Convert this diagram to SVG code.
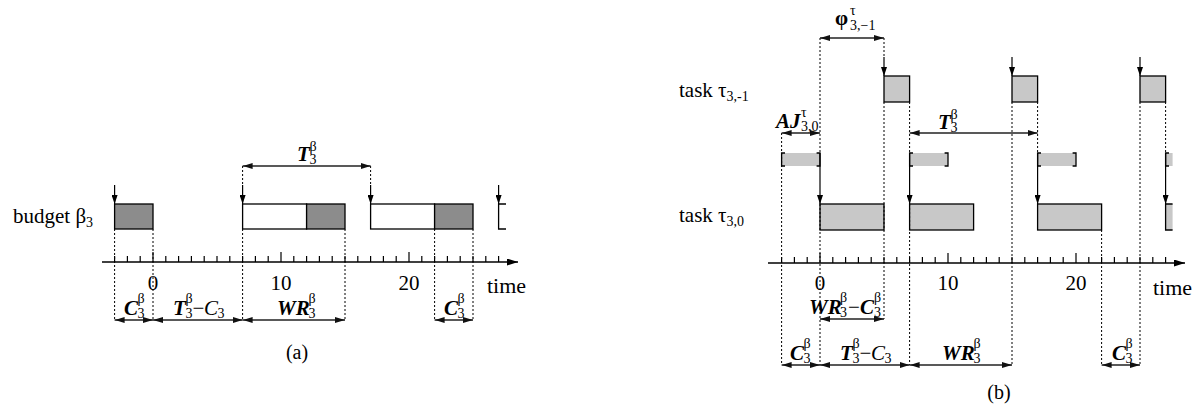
<svg xmlns="http://www.w3.org/2000/svg" xmlns:xlink="http://www.w3.org/1999/xlink" width="1196" height="406" viewBox="0 0 1196 406" font-family="'Liberation Serif', 'Times New Roman', Times, 'DejaVu Serif', serif">
<style>
.t,.m,.g,.r,.s{font-family:"Liberation Serif","Times New Roman",Times,"DejaVu Serif",serif;fill:#000}
.t{font-size:21px}
.m{font-size:21px;font-weight:bold;font-style:italic}
.g{font-size:21px;font-weight:bold}
.r{font-size:21px;font-style:italic}
.s{font-size:14px}
.dk{fill:#8c8c8c;stroke:#000;stroke-width:1.3}
.wh{fill:#fff;stroke:#000;stroke-width:1.3}
.lt{fill:#c8c8c8;stroke:#000;stroke-width:1.3}
.ltf{fill:#c8c8c8;stroke:none}
.br{fill:none;stroke:#000;stroke-width:1.3}
.dot{stroke:#000;stroke-width:1;stroke-dasharray:2 2;fill:none}
.dim{stroke:#222;stroke-width:1.4;fill:none;marker-start:url(#ah);marker-end:url(#ah)}
.rel{stroke:#000;stroke-width:1.2;fill:none;marker-end:url(#rh)}
.ax{stroke:#000;stroke-width:1.4;fill:none;marker-end:url(#axh)}
.tk{stroke:#000;stroke-width:1.2;fill:none}
</style>
<defs>
<marker id="ah" viewBox="0 0 10 6" refX="10" refY="3" markerWidth="10" markerHeight="6" markerUnits="userSpaceOnUse" orient="auto-start-reverse"><path d="M0,0 L10,3 L0,6 z" fill="#111"/></marker>
<marker id="rh" viewBox="0 0 6 9" refX="3" refY="9" markerWidth="6" markerHeight="9" markerUnits="userSpaceOnUse" orient="0"><path d="M0,0 L6,0 L3,9 z" fill="#000"/></marker>
<marker id="axh" viewBox="0 0 11 7" refX="11" refY="3.5" markerWidth="11" markerHeight="7" markerUnits="userSpaceOnUse" orient="auto"><path d="M0,0 L11,3.5 L0,7 z" fill="#000"/></marker>
<path id="ticks" class="tk" d="M114.6,256V262M127.4,256V262M140.2,256V262M153,252V262M165.8,256V262M178.6,256V262M191.4,256V262M204.2,256V262M217,256V262M229.8,256V262M242.6,256V262M255.4,256V262M268.2,256V262M281,252V262M293.8,256V262M306.6,256V262M319.4,256V262M332.2,256V262M345,256V262M357.8,256V262M370.6,256V262M383.4,256V262M396.2,256V262M409,252V262M421.8,256V262M434.6,256V262M447.4,256V262M460.2,256V262M473,256V262M485.8,256V262M498.6,256V262"/>
</defs>

<!-- ===== (a) ===== -->
<g id="a-labels">
<text class="t" x="13" y="223">budget β<tspan class="s" dy="4">3</tspan></text>
<text class="t" x="153" y="290" text-anchor="middle">0</text>
<text class="t" x="281" y="290" text-anchor="middle">10</text>
<text class="t" x="409" y="290" text-anchor="middle">20</text>
<text class="t" x="487" y="293" style="font-size:22px">time</text>
<text class="t" x="297" y="359" text-anchor="middle" style="font-size:20px">(a)</text>
</g>
<g id="a-axis">
<line class="ax" x1="102" y1="262" x2="518" y2="262"/>
<use xlink:href="#ticks"/>
</g>
<g id="a-budget1"><rect class="dk" x="114.6" y="204" width="38.4" height="25"/></g>
<g id="a-budget2"><rect class="wh" x="242.6" y="204" width="64" height="25"/><rect class="dk" x="306.6" y="204" width="38.4" height="25"/></g>
<g id="a-budget3"><rect class="wh" x="370.6" y="204" width="64" height="25"/><rect class="dk" x="434.6" y="204" width="38.4" height="25"/></g>
<g id="a-budget4"><path class="br" d="M506,204H498.6V229H506"/></g>
<g id="a-connectors">
<line class="rel" x1="114.6" y1="185" x2="114.6" y2="204"/>
<line class="rel" x1="242.6" y1="185" x2="242.6" y2="204"/>
<line class="rel" x1="370.6" y1="185" x2="370.6" y2="204"/>
<line class="rel" x1="498.6" y1="185" x2="498.6" y2="204"/>
<path class="dot" d="M242.6,166V185M370.6,166V185M114.6,229V320M153,229V320M242.6,229V320M345,229V320M434.6,229V320M473,229V320"/>
<line class="dim" x1="242.6" y1="166" x2="370.6" y2="166"/>
<line class="dim" x1="114.6" y1="320" x2="153" y2="320"/>
<line class="dim" x1="153" y1="320" x2="242.6" y2="320"/>
<line class="dim" x1="242.6" y1="320" x2="345" y2="320"/>
<line class="dim" x1="434.6" y1="320" x2="473" y2="320"/>
</g>
<g id="a-dimlabels">
<text class="m" x="297" y="161">T</text><text class="s" x="309.5" y="151">β</text><text class="s" x="309.5" y="164">3</text>
<text class="m" x="124" y="315">C</text><text class="s" x="137.5" y="303">β</text><text class="s" x="137.5" y="318">3</text>
<text class="m" x="173" y="315">T</text><text class="s" x="185.5" y="303">β</text><text class="s" x="185.5" y="318">3</text><text class="t" x="192.5" y="315">−</text><text class="r" x="204" y="315">C</text><text class="s" x="217.5" y="318">3</text>
<text class="m" x="277" y="315">WR</text><text class="s" x="308.5" y="303">β</text><text class="s" x="308.5" y="318">3</text>
<text class="m" x="444" y="315">C</text><text class="s" x="457.5" y="303">β</text><text class="s" x="457.5" y="318">3</text>
</g>

<!-- ===== (b) ===== -->
<g id="b-labels">
<text class="t" x="679" y="97">task τ<tspan class="s" dy="4">3,-1</tspan></text>
<text class="t" x="679" y="222">task τ<tspan class="s" dy="4">3,0</tspan></text>
<text class="t" x="820" y="290" text-anchor="middle">0</text>
<text class="t" x="948" y="290" text-anchor="middle">10</text>
<text class="t" x="1076" y="290" text-anchor="middle">20</text>
<text class="t" x="1153" y="295" style="font-size:22px">time</text>
<text class="t" x="999" y="399" text-anchor="middle" style="font-size:20px">(b)</text>
</g>
<g id="b-axis">
<line class="ax" x1="768" y1="263" x2="1185" y2="263"/>
<use xlink:href="#ticks" transform="translate(667,1)"/>
</g>
<g id="b-task-1-job1"><rect class="lt" x="884" y="76" width="25.6" height="26"/></g>
<g id="b-task-1-job2"><rect class="lt" x="1012" y="76" width="25.6" height="26"/></g>
<g id="b-task-1-job3"><rect class="lt" x="1140" y="76" width="25.6" height="26"/></g>
<g id="b-jitter1"><rect class="ltf" x="781.6" y="153" width="38.4" height="13"/><path class="br" d="M785,153H781.6V166H785M816.6,153H820V166H816.6"/></g>
<g id="b-jitter2"><rect class="ltf" x="909.6" y="153" width="38.4" height="13"/><path class="br" d="M913,153H909.6V166H913M944.6,153H948V166H944.6"/></g>
<g id="b-jitter3"><rect class="ltf" x="1037.6" y="153" width="38.4" height="13"/><path class="br" d="M1041,153H1037.6V166H1041M1072.6,153H1076V166H1072.6"/></g>
<g id="b-jitter4"><rect class="ltf" x="1165.6" y="153" width="7" height="13"/><path class="br" d="M1169,153H1165.6V166H1169"/></g>
<g id="b-task0-job1"><rect class="lt" x="820" y="204" width="64" height="26"/></g>
<g id="b-task0-job2"><rect class="lt" x="909.6" y="204" width="64" height="26"/></g>
<g id="b-task0-job3"><rect class="lt" x="1037.6" y="204" width="64" height="26"/></g>
<g id="b-task0-job4"><rect class="ltf" x="1165.6" y="204" width="7" height="26"/><path class="br" d="M1172.6,204H1165.6V230H1172.6"/></g>
<g id="b-connectors">
<line class="rel" x1="884" y1="57" x2="884" y2="76"/>
<line class="rel" x1="1012" y1="57" x2="1012" y2="76"/>
<line class="rel" x1="1140" y1="57" x2="1140" y2="76"/>
<line class="rel" x1="820" y1="153" x2="820" y2="204"/>
<line class="rel" x1="909.6" y1="153" x2="909.6" y2="204"/>
<line class="rel" x1="1037.6" y1="153" x2="1037.6" y2="204"/>
<line class="rel" x1="1165.6" y1="153" x2="1165.6" y2="204"/>
<path class="dot" d="M820,38V153M820,204V365M884,38V57M884,102V319M781.6,133V365M909.6,102V153M909.6,204V365M1012,102V365M1037.6,102V153M1101.6,230V365M1140,102V365M1165.6,102V153"/>
<line class="dim" x1="820" y1="38" x2="884" y2="38"/>
<line class="dim" x1="781.6" y1="133" x2="820" y2="133"/>
<line class="dim" x1="909.6" y1="133" x2="1037.6" y2="133"/>
<line class="dim" x1="820" y1="319" x2="884" y2="319"/>
<line class="dim" x1="781.6" y1="365" x2="820" y2="365"/>
<line class="dim" x1="820" y1="365" x2="909.6" y2="365"/>
<line class="dim" x1="909.6" y1="365" x2="1012" y2="365"/>
<line class="dim" x1="1101.6" y1="365" x2="1140" y2="365"/>
</g>
<g id="b-dimlabels">
<text class="g" x="835" y="25">φ</text><text class="s" x="850" y="15">τ</text><text class="s" x="850" y="30">3,−1</text>
<text class="m" x="776" y="128">AJ</text><text class="s" x="801" y="117">τ</text><text class="s" x="801" y="131">3,0</text>
<text class="m" x="938" y="129">T</text><text class="s" x="950.5" y="119">β</text><text class="s" x="950.5" y="132">3</text>
<text class="m" x="809" y="314">WR</text><text class="s" x="840" y="302">β</text><text class="s" x="840" y="317">3</text><text class="t" x="848" y="314">−</text><text class="m" x="860" y="314">C</text><text class="s" x="874" y="302">β</text><text class="s" x="874" y="317">3</text>
<text class="m" x="790" y="360">C</text><text class="s" x="803.5" y="348">β</text><text class="s" x="803.5" y="363">3</text>
<text class="m" x="840" y="360">T</text><text class="s" x="852.5" y="348">β</text><text class="s" x="852.5" y="363">3</text><text class="t" x="859.5" y="360">−</text><text class="r" x="871" y="360">C</text><text class="s" x="884.5" y="363">3</text>
<text class="m" x="942" y="360">WR</text><text class="s" x="973.5" y="348">β</text><text class="s" x="973.5" y="363">3</text>
<text class="m" x="1112" y="360">C</text><text class="s" x="1125.5" y="348">β</text><text class="s" x="1125.5" y="363">3</text>
</g>
</svg>
